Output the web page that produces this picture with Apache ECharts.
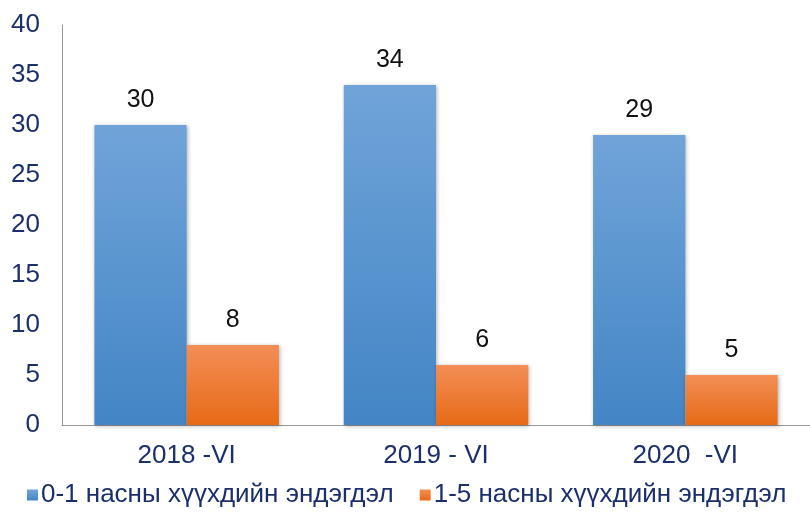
<!DOCTYPE html>
<html>
<head>
<meta charset="utf-8">
<script src="https://cdn.jsdelivr.net/npm/echarts@6/dist/echarts.min.js"></script>
<style>
  html, body { margin: 0; padding: 0; background: #fff; }
  #chart { width: 810px; height: 515px; }
</style>
</head>
<body>
<div id="chart"></div>
<script>
// data
const categories = ['2018 -VI', '2019 - VI', '2020  -VI'];
const infantDeaths = [30, 34, 29];
const childDeaths = [8, 6, 5];
const seriesNames = ['0-1 насны хүүхдийн эндэгдэл', '1-5 насны хүүхдийн эндэгдэл'];

const chart = echarts.init(document.getElementById('chart'));
const font = '"Liberation Sans", Arial, sans-serif';
const navy = '#1B2F6B';

function grad(top, bottom) {
    return new echarts.graphic.LinearGradient(0, 0, 0, 1, [
        { offset: 0, color: top },
        { offset: 1, color: bottom }
    ]);
}

const barStyle = {
    shadowColor: 'rgba(0,0,0,0.3)',
    shadowBlur: 4,
    shadowOffsetX: 1,
    shadowOffsetY: 1
};

let option = {
    animation: false,
    textStyle: { fontFamily: font },
    grid: { left: 62, right: 0, top: 25, bottom: 90, containLabel: false },
    legend: {
        bottom: 2,
        left: 22,
        itemWidth: 11,
        itemHeight: 11,
        itemGap: 26,
        icon: 'rect',
        textStyle: { fontSize: 26, color: navy, fontFamily: font, padding: [0, 0, 0, -2] }
    },
    xAxis: {
        type: 'category',
        data: categories,
        axisLine: { lineStyle: { color: '#999' } },
        axisTick: { show: false },
        axisLabel: { fontSize: 26, color: navy, margin: 18, fontFamily: font }
    },
    yAxis: {
        type: 'value',
        min: 0,
        max: 40,
        interval: 5,
        axisLine: { show: true, lineStyle: { color: '#999' } },
        axisTick: { show: false },
        splitLine: { show: false },
        axisLabel: { fontSize: 26, color: navy, margin: 22, fontFamily: font }
    },
    series: [{
        name: seriesNames[0],
        type: 'bar',
        data: infantDeaths,
        barGap: '0%',
        barCategoryGap: '26%',
        label: { show: true, position: 'top', distance: 12, fontSize: 25, color: '#111', fontFamily: font },
        itemStyle: Object.assign({ color: grad('#70A4D9', '#4385C5') }, barStyle)
    }, {
        name: seriesNames[1],
        type: 'bar',
        data: childDeaths,
        label: { show: true, position: 'top', distance: 12, fontSize: 25, color: '#111', fontFamily: font },
        itemStyle: Object.assign({ color: grad('#F38E56', '#E76A16') }, barStyle)
    }]
};
chart.setOption(option);
</script>
</body>
</html>
